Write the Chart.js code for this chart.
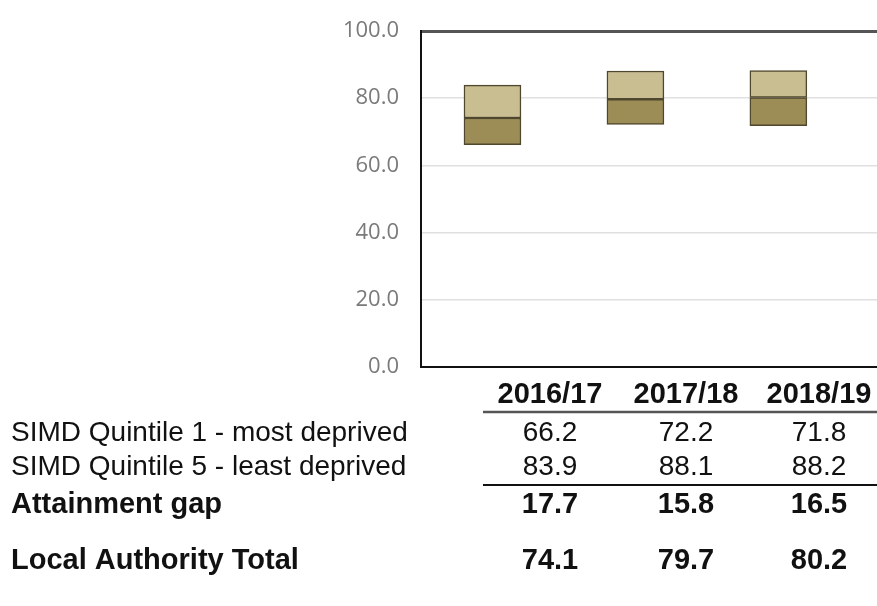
<!DOCTYPE html>
<html>
<head>
<meta charset="utf-8">
<script src="https://cdn.jsdelivr.net/npm/chart.js@4.4.1/dist/chart.umd.min.js"></script>
<style>
  html, body { margin: 0; padding: 0; background: #fff; overflow: hidden; }
  #wrap { width: 877px; height: 606px; }
</style>
</head>
<body>
<div id="wrap"><canvas id="chart" width="877" height="606"></canvas></div>
<script>
const years = ['2016/17', '2017/18', '2018/19']
const quintile1 = [66.2, 72.2, 71.8]
const quintile5 = [83.9, 88.1, 88.2]
const attainmentGap = [17.7, 15.8, 16.5]
const laTotal = [74.1, 79.7, 80.2]
const yTicks = [0, 20, 40, 60, 80, 100]

const rowLabels = [
    'SIMD Quintile 1 - most deprived',
    'SIMD Quintile 5 - least deprived',
    'Attainment gap',
    'Local Authority Total'
]

// table under the plot
const tableCols = [550, 686, 819]
const tableRows = [
    { label: null, values: years, bold: true, y: 403 },
    { label: rowLabels[0], values: quintile1, bold: false, y: 441 },
    { label: rowLabels[1], values: quintile5, bold: false, y: 475 },
    { label: rowLabels[2], values: attainmentGap, bold: true, y: 513 },
    { label: rowLabels[3], values: laTotal, bold: true, y: 569 }
]

const tablePlugin = {
    id: 'summaryTable',
    afterDraw(chart) {
        const ctx = chart.ctx
        ctx.save()
        ctx.textBaseline = 'alphabetic'
        tableRows.forEach(row => {
            ctx.fillStyle = '#111'
            ctx.font = (row.bold ? 'bold 29px' : '28px') + ' "Liberation Sans", Arial, sans-serif'
            if (row.label) {
                ctx.textAlign = 'left'
                ctx.fillText(row.label, 11, row.y)
            }
            ctx.textAlign = 'center'
            row.values.forEach((v, i) => {
                const txt = typeof v === 'number' ? v.toFixed(1) : v
                ctx.fillText(txt, tableCols[i], row.y)
            })
        })
        // rules under the header and under the quintile rows
        ctx.strokeStyle = '#555'
        ctx.lineWidth = 2.5
        ctx.beginPath()
        ctx.moveTo(483, 412)
        ctx.lineTo(877, 412)
        ctx.stroke()
        ctx.strokeStyle = '#111'
        ctx.lineWidth = 2
        ctx.beginPath()
        ctx.moveTo(483, 485)
        ctx.lineTo(877, 485)
        ctx.stroke()
        ctx.restore()
    }
}

const lowerBars = years.map((y, i) => ({ x: i, y: [quintile1[i], laTotal[i]] }))
const upperBars = years.map((y, i) => ({ x: i, y: [laTotal[i], quintile5[i]] }))

const barStyle = {
    borderColor: '#4f472e',
    borderWidth: 1.5,
    borderSkipped: false,
    grouped: false,
    barThickness: 57
}

new Chart(document.getElementById('chart').getContext('2d'), {
    type: 'bar',
    data: {
        datasets: [
            Object.assign({ label: 'Quintile 1 to total', data: lowerBars, backgroundColor: '#9c8c55' }, barStyle),
            Object.assign({ label: 'Total to quintile 5', data: upperBars, backgroundColor: '#c9be92' }, barStyle)
        ]
    },
    options: {
        responsive: false,
        animation: false,
        events: [],
        layout: { padding: { top: 31, bottom: 239, left: 0, right: 0 } },
        plugins: {
            legend: { display: false },
            tooltip: { enabled: false }
        },
        scales: {
            x: {
                type: 'linear',
                display: false,
                offset: false,
                min: -0.5,
                max: 2.69
            },
            y: {
                min: 0,
                max: 100,
                afterBuildTicks: scale => {
                    scale.ticks = yTicks.map(v => ({ value: v }))
                },
                afterFit: scale => {
                    scale.width = 421
                    scale.paddingTop = 0
                    scale.paddingBottom = 0
                },
                border: { display: true, color: '#111', width: 2 },
                grid: {
                    drawTicks: false,
                    color: c => c.tick.value === 100 ? '#555' : c.tick.value === 0 ? '#111' : '#e0e0e0',
                    lineWidth: c => c.tick.value === 100 ? 3 : c.tick.value === 0 ? 2 : 1.5
                },
                ticks: {
                    padding: 22,
                    color: '#7a7a7a',
                    font: { family: '"Open Sans", sans-serif', size: 22 },
                    callback: v => v.toFixed(1)
                }
            }
        }
    },
    plugins: [tablePlugin]
})
</script>
</body>
</html>
